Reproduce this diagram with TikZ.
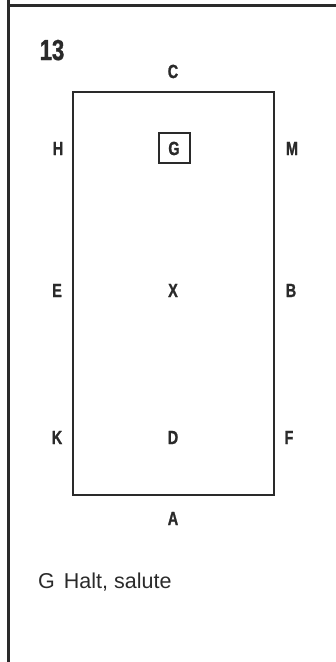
\documentclass[tikz,border=0pt]{standalone}
\usepackage{fontspec}
\setmainfont{Liberation Sans}
\newfontfamily\condfont{Liberation Sans}[FakeStretch=0.76, BoldFeatures={FakeBold=1.2}]
\definecolor{ink}{HTML}{2A2A2A}
\tikzset{
  letter/.style={font=\condfont\bfseries\fontsize{19}{19}\selectfont, text=ink, inner sep=0pt, anchor=base},
  frame/.style={draw=ink, line width=1.5pt},
  outer/.style={draw=ink, line width=2.6pt}
}
\begin{document}
\begin{tikzpicture}[x=1pt,y=-1pt]
\useasboundingbox (0,0) rectangle (336,662);
% outer page rule lines
\coordinate (lt) at (8.5,0);
\coordinate (lb) at (8.5,662);
\coordinate (tl) at (8.5,5);
\coordinate (tr) at (336,5);
\draw[outer] (lt) -- (lb);
\draw[outer, line width=3pt] (tl) -- (tr);
% number
\node[letter, font=\condfont\bfseries\fontsize{29}{29}\selectfont] (num) at (52,60) {13};
% arena
\draw[frame] (73,92) rectangle (274,495);
% letters
\node[letter] (C) at (173,78) {C};
\node[letter] (H) at (58,155) {H};
\node[letter] (G) at (174,155) {G};
\node[letter] (M) at (292,155) {M};
\node[letter] (E) at (57,297) {E};
\node[letter] (X) at (173,297) {X};
\node[letter] (B) at (291,297) {B};
\node[letter] (K) at (57,444) {K};
\node[letter] (D) at (173,444) {D};
\node[letter] (F) at (289,444) {F};
\node[letter] (A) at (173,525) {A};
% box around G
\draw[draw=ink, line width=1.3pt] (159,133) rectangle (190,163);
% caption
\node[inner sep=0pt, anchor=base west, text=ink, font=\fontsize{21.5}{21.5}\selectfont] (cap) at (38,588) {G\hspace{9pt}Halt, salute};
\end{tikzpicture}
\end{document}
